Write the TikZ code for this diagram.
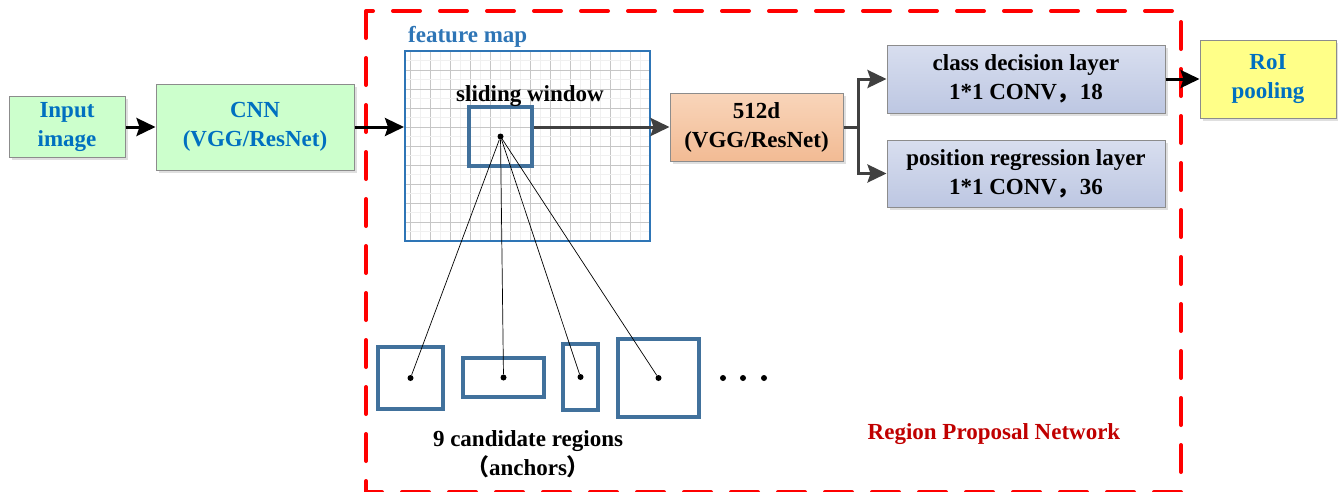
\documentclass[tikz,border=0pt]{standalone}
\usepackage{fontspec}
\setmainfont{Liberation Serif}
\newfontfamily\cjk{Noto Sans CJK SC}
\usetikzlibrary{arrows.meta,shadows}
\definecolor{ingreen}{HTML}{CCFFCC}
\definecolor{txtblue}{HTML}{0070C0}
\definecolor{fmblue}{HTML}{2E75B6}
\definecolor{anchorblue}{HTML}{41719C}
\definecolor{rpnred}{HTML}{C00000}
\definecolor{arrgray}{HTML}{404040}
\definecolor{peachtop}{HTML}{F9D5BA}
\definecolor{peachbot}{HTML}{F2BB94}
\definecolor{lavtop}{HTML}{D8DEEF}
\definecolor{lavbot}{HTML}{BDC7E2}
\definecolor{roiyellow}{HTML}{FFFF88}
\begin{document}
\begin{tikzpicture}[x=1pt,y=-1pt,
    font=\fontsize{23}{29}\selectfont\bfseries,
    box/.style={draw=gray!90, line width=1pt, align=center, inner sep=0pt,
      drop shadow={opacity=0.25, shadow xshift=2.5pt, shadow yshift=-2.5pt}},
    anchorbox/.style={draw=anchorblue, line width=4pt, inner sep=0pt},
    dot/.style={circle, fill=black, inner sep=0pt, minimum size=6pt},
    arr/.style={-{Stealth[length=19pt,width=18pt,inset=3pt]}, line width=3pt}]
  \useasboundingbox (0,0) rectangle (1338,491);

  % outer frame of the RPN
  \draw[red, line width=4pt, line cap=round, dash pattern=on 27pt off 20pt]
    (366,11) rectangle (1181,492);

  \node[box, fill=ingreen, text=txtblue, minimum width=116pt, minimum height=61pt] (in) at (67,127) {Input\\image};
  \node[box, fill=ingreen, text=txtblue, minimum width=198pt, minimum height=86pt] (cnn) at (255,127) {CNN\\(VGG/ResNet)};

  % feature map with its grid
  \foreach \i in {0,...,11} {
    \draw[gray!12, line width=0.8pt] (420+\i*20,51) -- (420+\i*20,241);
    \draw[gray!45, line width=1pt] (410+\i*20,51) -- (410+\i*20,241);
  }
  \foreach \j in {0,...,9} {
    \draw[gray!12, line width=0.8pt] (405,60.5+\j*19) -- (650,60.5+\j*19);
    \draw[gray!45, line width=1pt] (405,70+\j*19) -- (650,70+\j*19);
  }
  \node[draw=fmblue, line width=2pt, minimum width=245pt, minimum height=190pt, inner sep=0pt] (fm) at (527.5,146) {};
  \node[text=fmblue, anchor=base west, inner sep=0pt] (fml) at (408,42) {feature map};
  \node[anchorbox, minimum width=63pt, minimum height=59pt] (sw) at (500.5,136.5) {};
  \node[dot] (c) at (sw.center) {};
  \node (swl) at (530,96) {sliding window};

  \node[box, top color=peachtop, bottom color=peachbot, minimum width=173pt, minimum height=68pt] (d512) at (756.5,127) {512d\\(VGG/ResNet)};
  \node[box, top color=lavtop, bottom color=lavbot, minimum width=278pt, minimum height=68pt] (cls) at (1026,79) {class decision layer\\1*1 CONV{\cjk ，}18};
  \node[box, top color=lavtop, bottom color=lavbot, minimum width=278pt, minimum height=67pt] (reg) at (1026,173.5) {position regression layer\\1*1 CONV{\cjk ，}36};
  \node[box, fill=roiyellow, text=txtblue, minimum width=136pt, minimum height=78pt] (roi) at (1268,79) {RoI\\pooling};

  \draw[arr] (in) -- (cnn);
  \draw[arr] (cnn.east) -- (cnn.east -| fm.west);
  \draw[arr, arrgray] (sw.east |- d512.west) -- (d512.west);
  \draw[line width=3pt, arrgray] (d512.east) -- ++(15,0) coordinate (br);
  \draw[arr, arrgray] (br) |- (cls.west);
  \draw[arr, arrgray] (br) |- (reg.west);
  \draw[arr] (cls) -- (roi);

  % candidate anchors
  \node[anchorbox, minimum width=65pt, minimum height=62pt] (a1) at (410.5,378) {};
  \node[anchorbox, minimum width=81pt, minimum height=39pt] (a2) at (503.5,377.5) {};
  \node[anchorbox, minimum width=35pt, minimum height=66pt] (a3) at (580.5,377) {};
  \node[anchorbox, minimum width=81pt, minimum height=78pt] (a4) at (658.5,378) {};
  \foreach \k in {1,...,4} {
    \node[dot] (d\k) at (a\k.center) {};
    \draw[line width=0.7pt] (c) -- (d\k);
  }
  \foreach \x [count=\k] in {723,743,764}
    \node[dot] (e\k) at (\x,378) {};

  \node (cand) at (528,441) {9 candidate regions};
  \node (anc) at (528,467) {{\cjk （}anchors{\cjk ）}};
  \node[text=rpnred] (rpn) at (994,434) {Region Proposal Network};
\end{tikzpicture}
\end{document}
